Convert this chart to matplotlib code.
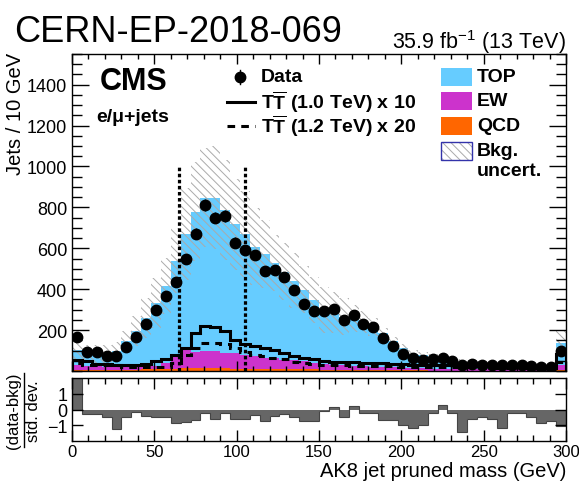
import matplotlib.pyplot as plt
import numpy as np
from matplotlib.lines import Line2D
from matplotlib.patches import Rectangle
from matplotlib.ticker import MultipleLocator

plt.rcParams['font.family'] = 'Liberation Sans'
plt.rcParams['mathtext.fontset'] = 'custom'
plt.rcParams['mathtext.rm'] = 'Liberation Sans'
plt.rcParams['mathtext.bf'] = 'Liberation Sans:bold'
plt.rcParams['hatch.linewidth'] = 0.7
plt.rcParams['hatch.color'] = '#aaaaaa'

# 6 GeV bins from 0 to 300, last bin holds the overflow
edges = np.arange(0, 301, 6)
centers = 0.5 * (edges[:-1] + edges[1:])

data = np.array([165, 91, 91, 72, 72, 117, 166, 231, 298, 367,
                 433, 546, 672, 811, 750, 758, 628, 590, 569, 491,
                 494, 462, 397, 328, 291, 291, 304, 247, 275, 231,
                 215, 163, 122, 84, 63, 55, 58, 63, 50, 31,
                 35, 31, 28, 28, 28, 28, 25, 22, 22, 99])

bkg_top = np.array([73, 65, 60, 62, 82, 127, 171, 236, 309, 377,
                    457, 564, 685, 751, 751, 697, 629, 590, 536, 509,
                    464, 431, 386, 350, 308, 266, 255, 237, 232, 214,
                    193, 165, 127, 96, 68, 64, 53, 46, 42, 34,
                    30, 26, 24, 27, 21, 22, 21, 20, 19, 104])

bkg_ew = np.array([25, 20, 20, 15, 15, 14, 18, 15, 13, 27,
                   71, 90, 79, 81, 82, 77, 76, 68, 61, 53,
                   53, 46, 46, 39, 32, 27, 23, 22, 20, 19,
                   17, 16, 14, 13, 12, 11, 10, 10, 9, 9,
                   8, 8, 7, 7, 7, 6, 6, 6, 6, 28])

bkg_qcd = np.array([3, 3, 3, 3, 3, 4, 5, 8, 10, 12,
                    12, 14, 15, 15, 14, 13, 12, 12, 11, 10,
                    10, 9, 9, 8, 8, 7, 7, 6, 6, 5,
                    5, 4, 4, 3, 3, 3, 2, 2, 2, 2,
                    2, 2, 2, 2, 2, 2, 2, 2, 2, 3])

# upper edge of the background uncertainty band
bkg_up = np.array([145, 128, 128, 128, 140, 194, 267, 356, 454, 551,
                   698, 893, 1020, 1090, 1098, 1030, 941, 878, 795, 738,
                   665, 624, 576, 511, 462, 413, 385, 356, 324, 291,
                   259, 210, 165, 130, 105, 95, 82, 75, 68, 58,
                   52, 48, 44, 46, 40, 39, 38, 37, 36, 194])

sig_1000 = np.array([55, 47, 34, 34, 28, 28, 28, 34, 47, 60,
                     76, 112, 185, 220, 215, 195, 153, 133, 124, 114,
                     102, 88, 74, 65, 59, 50, 45, 44, 42, 40,
                     39, 37, 35, 33, 31, 30, 29, 28, 27, 26,
                     25, 24, 23, 22, 21, 20, 19, 18, 17, 82])

sig_1200 = np.array([39, 31, 31, 31, 31, 22, 20, 20, 20, 22,
                     39, 80, 113, 135, 136, 130, 112, 92, 80, 72,
                     64, 58, 44, 38, 34, 30, 28, 27, 26, 26,
                     25, 24, 23, 22, 22, 21, 20, 20, 19, 18,
                     18, 17, 16, 16, 15, 15, 14, 14, 13, 45])

pull = np.array([2.0, -0.27, -0.3, -0.48, -1.22, -0.48, -0.15, -0.4, -0.5, -0.5,
                 -0.85, -0.8, -0.65, -0.2, -0.6, -0.25, -0.6, -0.6, -0.35, -0.7,
                 -0.4, -0.3, -0.45, -0.75, -0.7, -0.1, 0.15, -0.45, 0.25, -0.2,
                 -0.2, -0.65, -0.65, -1.0, -1.15, -1.0, -0.2, 0.3, -0.2, -1.4,
                 -0.6, -0.5, -0.6, -1.2, -0.2, -0.2, -0.5, -0.85, -0.75, -1.05])

window = [65, 105]
window_top = 1000

c_top = '#66ccff'
c_ew = '#cc33cc'
c_qcd = '#ff6600'

W, H = 579, 485
fig = plt.figure(figsize=(W / 100, H / 100), dpi=100)


def fx(x):
    return x / W


def fy(y):
    return 1 - y / H


def px_axes(x0, y0, x1, y1):
    return fig.add_axes([fx(x0), fy(y1), (x1 - x0) / W, (y1 - y0) / H])


ax = px_axes(72, 55, 566, 372)
rax = px_axes(72, 379, 566, 442)

# stacked backgrounds
total = bkg_top + bkg_ew + bkg_qcd
ax.stairs(total, edges, fill=True, color=c_top, lw=0)
ax.stairs(bkg_ew + bkg_qcd, edges, fill=True, color=c_ew, lw=0)
ax.stairs(bkg_qcd, edges, fill=True, color=c_qcd, lw=0)

# uncertainty band, symmetric around the total
bkg_down = np.clip(2 * total - bkg_up, 0, None)
ax.stairs(bkg_up, edges, baseline=bkg_down, fill=True, facecolor='none',
          edgecolor='#aaaaaa', lw=0, hatch='\\\\\\\\')

# signals
ax.stairs(sig_1000, edges, color='k', lw=2.2)
ax.stairs(sig_1200, edges, color='k', lw=2.2, ls=(0, (2.5, 2)))

# mass window
for m in window:
    ax.plot([m, m], [0, window_top], color='k', lw=2.3, ls=(0, (1.1, 0.8)))

ax.errorbar(centers, data, yerr=np.sqrt(data), fmt='o', color='k', ms=7.5,
            elinewidth=1, capsize=0, zorder=5)

ax.set_xlim(0, 300)
ax.set_ylim(0, 1550)
ax.set_yticks(np.arange(200, 1401, 200))
ax.yaxis.set_minor_locator(MultipleLocator(50))
ax.xaxis.set_major_locator(MultipleLocator(50))
ax.xaxis.set_minor_locator(MultipleLocator(10))
ax.tick_params(which='both', direction='in', top=True, right=True,
               labelbottom=False, labelsize=13, width=1)
ax.tick_params(axis='y', which='major', length=12)
ax.tick_params(axis='y', which='minor', length=7)
ax.tick_params(axis='x', which='major', length=7)
ax.tick_params(axis='x', which='minor', length=3.5)

# pull panel
rax.stairs(pull, edges, baseline=0, fill=True, color='#666666', lw=0)
rax.stairs(pull, edges, baseline=0, color='#444444', lw=0.8)
rax.set_xlim(0, 300)
rax.set_ylim(-2, 2)
rax.set_yticks([-1, 0, 1])
rax.xaxis.set_major_locator(MultipleLocator(50))
rax.xaxis.set_minor_locator(MultipleLocator(10))
rax.tick_params(which='both', direction='in', top=True, right=True,
                labelsize=13, width=1)
rax.tick_params(axis='x', which='both', pad=2, labelsize=12)
rax.tick_params(axis='y', which='major', length=8)
rax.tick_params(axis='x', which='major', length=8)
rax.tick_params(axis='x', which='minor', length=4)

for a in (ax, rax):
    for s in a.spines.values():
        s.set_linewidth(1)

# labels
fig.text(fx(14), fy(42), 'CERN-EP-2018-069', fontsize=26, va='baseline')
fig.text(fx(566), fy(49), r'35.9 fb$^{-1}$ (13 TeV)', fontsize=15.5,
         ha='right', va='baseline')
fig.text(fx(15.5), fy(53), 'Jets / 10 GeV', fontsize=14.5, rotation=90,
         ha='center', va='top')
fig.text(fx(566), fy(477), 'AK8 jet pruned mass (GeV)', fontsize=14.5,
         ha='right', va='baseline')
fig.text(fx(14), fy(411), '(data-bkg)', fontsize=12, rotation=90,
         ha='center', va='center')
fig.text(fx(33), fy(411), 'std. dev.', fontsize=12, rotation=90,
         ha='center', va='center')
fig.add_artist(Line2D([fx(23.5), fx(23.5)], [fy(374), fy(448)], color='k', lw=1))

fig.text(fx(100), fy(90), 'CMS', fontsize=22, weight='bold', va='baseline')
fig.text(fx(96), fy(122), 'e/μ+jets', fontsize=14, weight='bold', va='baseline')

# signal / data legend
fig.add_artist(Line2D([fx(240)], [fy(78)], marker='o', color='k', ms=7.5))
fig.add_artist(Line2D([fx(240), fx(240)], [fy(71), fy(85)], color='k', lw=1))
fig.add_artist(Line2D([fx(227), fx(255)], [fy(103), fy(103)], color='k', lw=2.2))
fig.add_artist(Line2D([fx(227), fx(255)], [fy(127), fy(127)], color='k', lw=2.2,
                      ls=(0, (2.5, 2))))
fig.text(fx(261), fy(77), 'Data', fontsize=14, weight='bold', va='center')
fig.text(fx(261), fy(102), r'T$\mathbf{\overline{T}}$ (1.0 TeV) x 10', fontsize=14,
         weight='bold', va='center')
fig.text(fx(261), fy(126), r'T$\mathbf{\overline{T}}$ (1.2 TeV) x 20', fontsize=14,
         weight='bold', va='center')

# background legend
boxes = [('TOP', c_top, 69), ('EW', c_ew, 93), ('QCD', c_qcd, 118)]
for name, col, y0 in boxes:
    fig.add_artist(Rectangle((fx(441), fy(y0 + 18)), 31 / W, 18 / H,
                             facecolor=col, edgecolor='none'))
    fig.text(fx(477), fy(y0 + 9), name, fontsize=14, weight='bold', va='center')
fig.add_artist(Rectangle((fx(441), fy(161)), 31 / W, 18 / H, facecolor='none',
                         edgecolor='#aaaaaa', lw=0, hatch='\\\\\\\\'))
fig.add_artist(Rectangle((fx(441), fy(161)), 31 / W, 18 / H, facecolor='none',
                         edgecolor='#3333aa', lw=1))
fig.text(fx(477), fy(152), 'Bkg.', fontsize=14, weight='bold', va='center')
fig.text(fx(477), fy(172), 'uncert.', fontsize=14, weight='bold', va='center')

fig.savefig('out.png', dpi=100)
